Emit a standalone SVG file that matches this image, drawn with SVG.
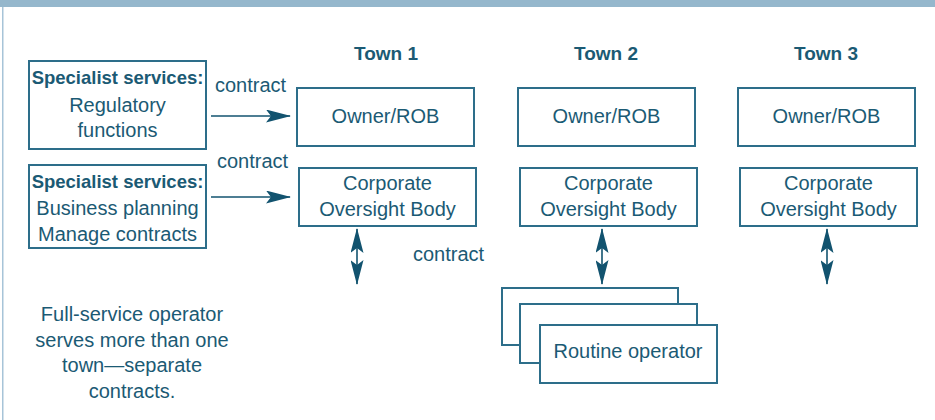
<svg xmlns="http://www.w3.org/2000/svg" width="935" height="420" viewBox="0 0 935 420">
  <style>
    .box { fill: #ffffff; stroke: #2d6e8a; stroke-width: 2; }
    .t { font-family: "Liberation Sans", Arial, sans-serif; font-size: 20px; fill: #1b5a74; text-anchor: middle; }
    .b { font-weight: bold; font-size: 18.5px; }
    .town { font-family: "Liberation Sans", Arial, sans-serif; font-size: 19px; font-weight: bold; fill: #1b5a74; text-anchor: middle; }
    .link { stroke: #12536f; stroke-width: 1.6; fill: none; }
  </style>
  <defs>
    <marker id="head" markerUnits="userSpaceOnUse" markerWidth="25" markerHeight="13" refX="24" refY="6.5" orient="auto-start-reverse">
      <path d="M0,0 L25,6.5 L0,13 L5,6.5 z" fill="#12536f"/>
    </marker>
  </defs>

  <!-- frame -->
  <rect x="0" y="0" width="935" height="7" fill="#95b7cc"/>
  <rect x="2" y="7" width="1.5" height="413" fill="#a7c4d8"/>

  <!-- town headings -->
  <g id="headings">
    <text class="town" x="386" y="60">Town 1</text>
    <text class="town" x="606" y="60">Town 2</text>
    <text class="town" x="826" y="60">Town 3</text>
  </g>

  <!-- specialist services -->
  <g id="spec-regulatory">
    <rect class="box" x="29" y="61" width="177" height="88"/>
    <text class="t b" x="117.5" y="84">Specialist services:</text>
    <text class="t" x="117.5" y="112">Regulatory</text>
    <text class="t" x="117.5" y="137">functions</text>
  </g>
  <g id="spec-business">
    <rect class="box" x="29" y="165" width="177" height="83"/>
    <text class="t b" x="117.5" y="188">Specialist services:</text>
    <text class="t" x="117.5" y="215">Business planning</text>
    <text class="t" x="117.5" y="241">Manage contracts</text>
  </g>

  <!-- town 1 -->
  <g id="owner-1">
    <rect class="box" x="297" y="88" width="177" height="58"/>
    <text class="t" x="385.5" y="123">Owner/ROB</text>
  </g>
  <g id="cob-1">
    <rect class="box" x="299" y="168" width="177" height="58"/>
    <text class="t" x="387.5" y="190">Corporate</text>
    <text class="t" x="387.5" y="215.5">Oversight Body</text>
  </g>

  <!-- town 2 -->
  <g id="owner-2">
    <rect class="box" x="518" y="88" width="177" height="58"/>
    <text class="t" x="606.5" y="123">Owner/ROB</text>
  </g>
  <g id="cob-2">
    <rect class="box" x="520" y="168" width="177" height="58"/>
    <text class="t" x="608.5" y="190">Corporate</text>
    <text class="t" x="608.5" y="215.5">Oversight Body</text>
  </g>

  <!-- town 3 -->
  <g id="owner-3">
    <rect class="box" x="738" y="88" width="177" height="58"/>
    <text class="t" x="826.5" y="123">Owner/ROB</text>
  </g>
  <g id="cob-3">
    <rect class="box" x="740" y="168" width="177" height="58"/>
    <text class="t" x="828.5" y="190">Corporate</text>
    <text class="t" x="828.5" y="215.5">Oversight Body</text>
  </g>

  <!-- routine operators (stacked) -->
  <g id="routine-operators">
    <rect class="box" x="502" y="288" width="176" height="57"/>
    <rect class="box" x="520" y="304" width="177" height="59"/>
    <rect class="box" x="540" y="325" width="177" height="58"/>
    <text class="t" x="628" y="358">Routine operator</text>
  </g>

  <!-- note -->
  <g id="note">
    <text class="t" x="132" y="321">Full-service operator</text>
    <text class="t" x="132" y="347">serves more than one</text>
    <text class="t" x="132" y="372">town—separate</text>
    <text class="t" x="132" y="398">contracts.</text>
  </g>

  <!-- connectors -->
  <g id="connectors">
    <line class="link" x1="211" y1="116" x2="290" y2="116" marker-end="url(#head)"/>
    <line class="link" x1="211" y1="197" x2="290" y2="197" marker-end="url(#head)"/>
    <line class="link" x1="357" y1="229" x2="357" y2="284" marker-start="url(#head)" marker-end="url(#head)"/>
    <line class="link" x1="602" y1="229" x2="602" y2="284" marker-start="url(#head)" marker-end="url(#head)"/>
    <line class="link" x1="827" y1="229" x2="827" y2="284" marker-start="url(#head)" marker-end="url(#head)"/>
    <text class="t" x="250.5" y="92">contract</text>
    <text class="t" x="252.5" y="168">contract</text>
    <text class="t" x="448.5" y="261">contract</text>
  </g>
</svg>
